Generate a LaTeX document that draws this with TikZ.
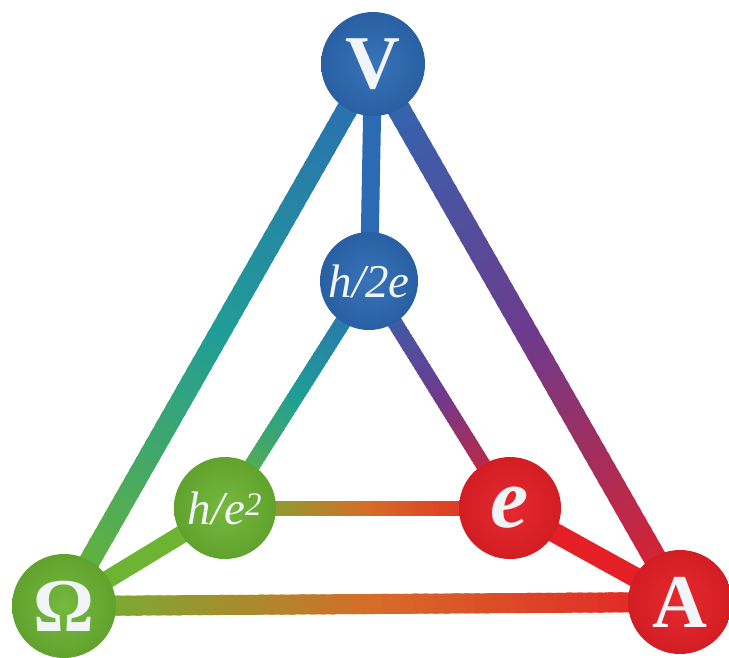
\documentclass[tikz,border=0pt]{standalone}
\usepackage{fontspec}
\setmainfont{Liberation Serif}
\usetikzlibrary{calc}
\pgfdeclarelayer{background}
\pgfsetlayers{background,main}
\definecolor{cblue}{RGB}{44,106,180}
\definecolor{cgreen}{RGB}{108,180,50}
\definecolor{cred}{RGB}{228,32,38}
\definecolor{ctext}{RGB}{242,245,248}
\definecolor{cteal}{RGB}{32,158,150}
\definecolor{cpurple}{RGB}{110,58,140}
\definecolor{corange}{RGB}{214,108,40}
% #1,#2 nodes; #3 start colour, #4 middle colour, #5 end colour, #6 width
\newcommand\gradline[6]{%
  \foreach \gi in {0,...,59}{%
    \ifnum\gi<30
      \pgfmathtruncatemacro\gp{100-\gi*100/30}%
      \colorlet{gcol}{#3!\gp!#4}%
    \else
      \pgfmathtruncatemacro\gp{100-(\gi-30)*100/29}%
      \colorlet{gcol}{#4!\gp!#5}%
    \fi
    \pgfmathsetmacro\gs{\gi/60}%
    \pgfmathsetmacro\gt{min((\gi+1.5)/60,1)}%
    \draw[line width=#6, draw=gcol]
      ($(#1.center)!\gs!(#2.center)$) -- ($(#1.center)!\gt!(#2.center)$);
  }}
\tikzset{
  ballnode/.style={circle, inner sep=0pt, minimum size=104pt, text=ctext},
  blueball/.style={ballnode, shading=radial, inner color=cblue!94!white, outer color=cblue!90!black},
  greenball/.style={ballnode, shading=radial, inner color=cgreen!94!white, outer color=cgreen!90!black},
  redball/.style={ballnode, shading=radial, inner color=cred!96!white, outer color=cred!92!black},
  bigfont/.style={font=\fontsize{76pt}{76pt}\selectfont\bfseries},
  midfont/.style={font=\fontsize{47pt}{47pt}\selectfont\itshape},
}
\begin{document}
\begin{tikzpicture}[x=1pt,y=-1pt]
\useasboundingbox (0,0) rectangle (729,657);
\node[blueball, bigfont] (V) at (373,64) {V};
\node[blueball, midfont, minimum size=98pt] (J) at (369,281) {h/2e};
\node[greenball, midfont, minimum size=102pt] (K) at (225,508) {h/e\textsuperscript{2}};
\node[redball, minimum size=102pt, font=\fontsize{86pt}{86pt}\selectfont\bfseries\itshape] (E) at (510,508) {e};
\node[greenball, bigfont] (O) at (64,606) {Ω};
\node[redball, bigfont] (A) at (680,602) {A};
\begin{pgfonlayer}{background}
  \fill[white] (0,0) rectangle (729,657);
  \gradline{V}{O}{cblue}{cteal}{cgreen}{21pt}
  \gradline{V}{A}{cblue}{cpurple}{cred}{23pt}
  \gradline{O}{A}{cgreen}{corange}{cred}{20pt}
  \gradline{J}{K}{cblue}{cteal}{cgreen}{16pt}
  \gradline{J}{E}{cblue}{cpurple}{cred}{15pt}
  \gradline{K}{E}{cgreen}{corange}{cred}{15pt}
  \draw[line width=18pt, cblue] (V.center) -- (J.center);
  \draw[line width=18pt, cgreen] (O.center) -- (K.center);
  \draw[line width=20pt, cred] (E.center) -- (A.center);
\end{pgfonlayer}
\end{tikzpicture}
\end{document}
